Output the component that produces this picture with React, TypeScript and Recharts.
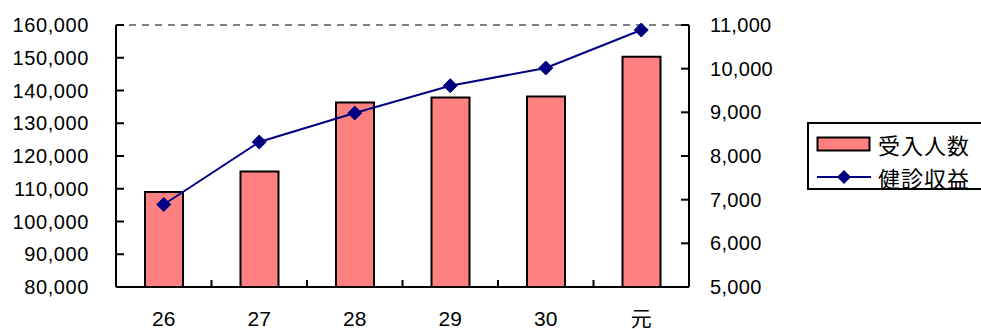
import React from "react";
import {
  ComposedChart,
  Bar,
  Line,
  XAxis,
  YAxis,
  ReferenceLine,
} from "recharts";

// Fiscal years (Heisei 26–30, Reiwa 元)
const years = ["26", "27", "28", "29", "30", "元"];
// 受入人数 (people received)
const intake = [109000, 115300, 136300, 137900, 138200, 150300];
// 健診収益 (health check revenue)
const revenue = [6890, 8320, 8985, 9610, 10015, 10885];

const leftTicks = [80000, 90000, 100000, 110000, 120000, 130000, 140000, 150000, 160000];
const rightTicks = [5000, 6000, 7000, 8000, 9000, 10000, 11000];

const seriesNames = { intake: "受入人数", revenue: "健診収益" };

const data = years.map((y, i) => ({ year: y, intake: intake[i], revenue: revenue[i] }));

const W = 981;
const H = 329;
const LEFT_AXIS_W = 116;
const RIGHT_AXIS_W = 100;
const MARGIN_RIGHT = W - 689 - RIGHT_AXIS_W;
const PLOT_W = W - LEFT_AXIS_W - RIGHT_AXIS_W - MARGIN_RIGHT;
const BAND = PLOT_W / years.length;

const NUM_FONT = "'Liberation Sans', Arial, 'Noto Sans CJK JP', sans-serif";
const CJK_FONT = "'Noto Sans CJK JP', sans-serif";
const fmt = (v: number) => v.toLocaleString("en-US");

const LeftTick = (props: any) => {
  const { x, y, payload } = props;
  return (
    <g>
      <line x1={x} y1={y} x2={x + 8} y2={y} stroke="#000" strokeWidth={2} />
      <text
        x={x - 27}
        y={y}
        dy={7}
        textAnchor="end"
        fontFamily={NUM_FONT}
        fontSize={20}
        letterSpacing={0.6}
        fill="#000"
      >
        {fmt(payload.value)}
      </text>
    </g>
  );
};

const RightTick = (props: any) => {
  const { x, y, payload } = props;
  return (
    <g>
      <line x1={x} y1={y} x2={x - 8} y2={y} stroke="#000" strokeWidth={2} />
      <text
        x={x + 21}
        y={y}
        dy={7}
        textAnchor="start"
        fontFamily={NUM_FONT}
        fontSize={20}
        letterSpacing={0.3}
        fill="#000"
      >
        {fmt(payload.value)}
      </text>
    </g>
  );
};

const BottomTick = (props: any) => {
  const { x, y, payload, index } = props;
  return (
    <g>
      {index > 0 && (
        <line x1={x - BAND / 2} y1={y} x2={x - BAND / 2} y2={y - 7} stroke="#000" strokeWidth={2} />
      )}
      <text x={x} y={y + 39} textAnchor="middle" fontFamily={NUM_FONT} fontSize={21} fill="#000">
        {payload.value}
      </text>
    </g>
  );
};

const Diamond = (props: any) => {
  const { cx, cy, index } = props;
  const r = 7;
  return (
    <path
      key={`d-${index}`}
      d={`M${cx},${cy - r} L${cx + r},${cy} L${cx},${cy + r} L${cx - r},${cy} Z`}
      fill="#000080"
      stroke="#000080"
    />
  );
};

const LegendBox = () => (
  <div
    style={{
      position: "absolute",
      left: 807,
      top: 122,
      border: "2px solid #000",
      width: 190,
      height: 68,
      boxSizing: "border-box",
      background: "#fff",
      fontFamily: CJK_FONT,
      fontSize: 22,
      color: "#000",
    }}
  >
    <div style={{ position: "absolute", left: 7, top: 9, display: "flex", alignItems: "center" }}>
      <svg width={56} height={16}>
        <rect x={1.5} y={1.5} width={52} height={13} fill="#FF8080" stroke="#000" strokeWidth={2} />
      </svg>
      <span style={{ marginLeft: 6, lineHeight: "22px", letterSpacing: 1 }}>{seriesNames.intake}</span>
    </div>
    <div style={{ position: "absolute", left: 7, top: 42, display: "flex", alignItems: "center" }}>
      <svg width={56} height={16}>
        <line x1={1} y1={8} x2={55} y2={8} stroke="#000080" strokeWidth={2} />
        <path d="M28,1 L35,8 L28,15 L21,8 Z" fill="#000080" />
      </svg>
      <span style={{ marginLeft: 6, lineHeight: "22px", letterSpacing: 1 }}>{seriesNames.revenue}</span>
    </div>
  </div>
);

export default function App() {
  return (
    <div style={{ position: "absolute", left: 0, top: 0, width: W, height: H, overflow: "hidden", background: "#fff" }}>
      <ComposedChart
        width={W}
        height={H}
        data={data}
        margin={{ top: 25, right: MARGIN_RIGHT, bottom: 0, left: 0 }}
      >
        <XAxis
          dataKey="year"
          height={42}
          axisLine={{ stroke: "#000", strokeWidth: 2 }}
          tickLine={false}
          tickSize={0}
          tickMargin={0}
          tick={<BottomTick />}
          interval={0}
        />
        <YAxis
          yAxisId="left"
          orientation="left"
          width={LEFT_AXIS_W}
          domain={[80000, 160000]}
          ticks={leftTicks}
          axisLine={{ stroke: "#000", strokeWidth: 2 }}
          tickLine={false}
          tickSize={0}
          tickMargin={0}
          tick={<LeftTick />}
          interval={0}
        />
        <YAxis
          yAxisId="right"
          orientation="right"
          width={RIGHT_AXIS_W}
          domain={[5000, 11000]}
          ticks={rightTicks}
          axisLine={{ stroke: "#000", strokeWidth: 2 }}
          tickLine={false}
          tickSize={0}
          tickMargin={0}
          tick={<RightTick />}
          interval={0}
        />
        <ReferenceLine
          yAxisId="left"
          y={160000}
          stroke="#808080"
          strokeWidth={2}
          strokeDasharray="7 6"
        />
        <Bar
          yAxisId="left"
          dataKey="intake"
          name={seriesNames.intake}
          fill="#FF8080"
          stroke="#000"
          strokeWidth={2}
          barSize={38}
          isAnimationActive={false}
        />
        <Line
          yAxisId="right"
          dataKey="revenue"
          name={seriesNames.revenue}
          stroke="#000080"
          strokeWidth={2}
          dot={<Diamond />}
          activeDot={false}
          isAnimationActive={false}
        />
      </ComposedChart>
      <LegendBox />
    </div>
  );
}
